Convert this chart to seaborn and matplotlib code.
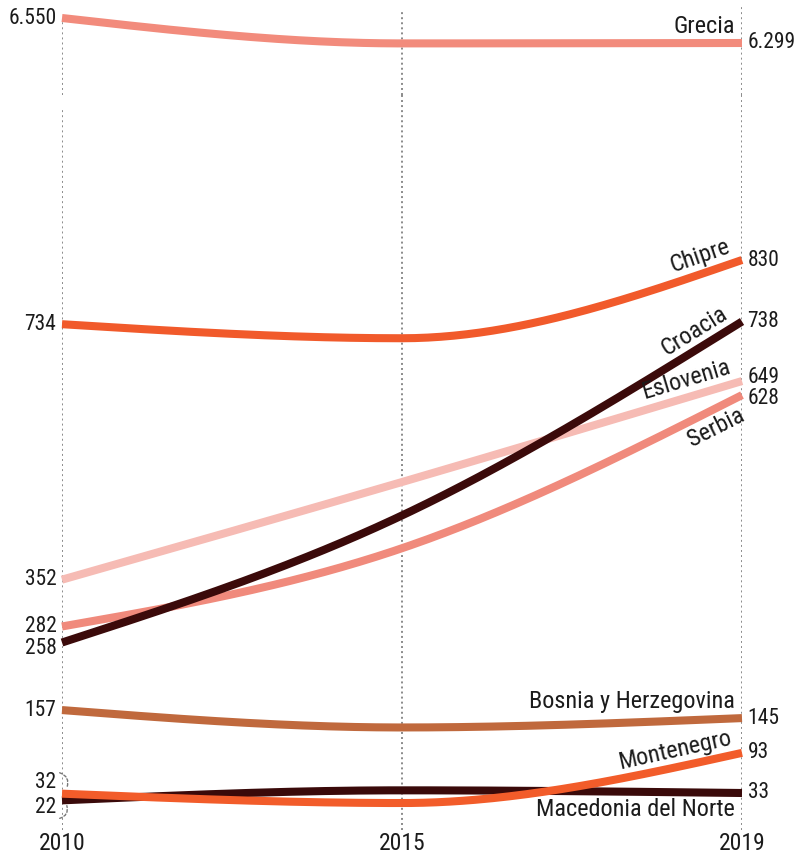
import numpy as np
import pandas as pd
import matplotlib
matplotlib.use("Agg")
import matplotlib.pyplot as plt
import seaborn as sns
from matplotlib.patches import FancyArrowPatch

# ---------------- data ----------------
years = ["2010", "2015", "2019"]
paises = ["Grecia", "Chipre", "Croacia", "Eslovenia", "Serbia",
          "Bosnia y Herzegovina", "Montenegro", "Macedonia del Norte"]
grecia = [6550, 6295, 6299]
chipre = [734, 713, 830]
croacia = [258, 448, 738]
eslovenia = [352, 498, 649]
serbia = [282, 399, 628]
bosnia = [157, 131, 145]
montenegro = [32, 18, 93]
macedonia = [22, 37, 33]
start_labels = ["6.550", "734", "258", "352", "282", "157", "32", "22"]
end_labels = ["6.299", "830", "738", "649", "628", "145", "93", "33"]

valores = dict(zip(paises, [grecia, chipre, croacia, eslovenia, serbia,
                            bosnia, montenegro, macedonia]))
colores = {
    "Grecia": "#F28B7C",
    "Chipre": "#F15A2B",
    "Croacia": "#3B0A0A",
    "Eslovenia": "#F6BBB4",
    "Serbia": "#F08A7C",
    "Bosnia y Herzegovina": "#C0693D",
    "Montenegro": "#F25C2A",
    "Macedonia del Norte": "#3A0A0A",
}

sns.set_theme(style="white")
plt.rcParams["font.family"] = ["Roboto Condensed", "Liberation Sans Narrow",
                               "DejaVu Sans Condensed", "Roboto", "DejaVu Sans"]
TXT = "#1b1b1b"
WEIGHT = "normal"


def monotone(ys, n=80):
    """d3 curveMonotoneX style rendering of a line through equally spaced points."""
    ys = np.asarray(ys, float)
    xs = np.arange(len(ys), dtype=float)
    s = np.diff(ys)
    t = np.zeros(len(ys))
    for i in range(1, len(ys) - 1):
        p = (s[i - 1] + s[i]) / 2
        t[i] = (np.sign(s[i - 1]) + np.sign(s[i])) * min(abs(s[i - 1]), abs(s[i]), 0.5 * abs(p))
    t[0] = (3 * s[0] - t[1]) / 2
    t[-1] = (3 * s[-1] - t[-2]) / 2
    px, py = [], []
    for i in range(len(ys) - 1):
        u = np.linspace(0, 1, n)
        h00 = 2 * u**3 - 3 * u**2 + 1
        h10 = u**3 - 2 * u**2 + u
        h01 = -2 * u**3 + 3 * u**2
        h11 = u**3 - u**2
        px.append(xs[i] + u)
        py.append(h00 * ys[i] + h10 * t[i] + h01 * ys[i + 1] + h11 * t[i + 1])
    return np.concatenate(px), np.concatenate(py), t


W, H = 801, 858
fig = plt.figure(figsize=(W / 100, H / 100), dpi=100)
fig.patch.set_facecolor("white")
L, R = 62, 742
TOP_B = 95
BOT_B = 830
ax_top = fig.add_axes([L / W, 1 - TOP_B / H, (R - L) / W, TOP_B / H])
ax = fig.add_axes([L / W, 1 - BOT_B / H, (R - L) / W, (BOT_B - TOP_B) / H])

# y scales (pixel positions measured on reference)
gpp = (6550 - 6299) / (43 - 18)          # units per px, top panel
ax_top.set_ylim(6550 - (TOP_B - 18) * gpp, 6550 + 18 * gpp)
ppu = (793 - 260) / (830 - 33)            # px per unit, bottom panel
zero_px = 793 + 33 * ppu
ax.set_ylim(-(BOT_B - zero_px) / ppu, (zero_px - TOP_B) / ppu)
for a in (ax_top, ax):
    a.set_xlim(0, 2)
    a.axis("off")

# dotted vertical guides
dots = dict(color="#8a8a8a", lw=1.4, linestyle=(0, (1, 1.6)), zorder=1)
ax_top.axvline(0, ymin=0, ymax=1 - 18 / TOP_B, **dots)
ax_top.axvline(1, ymin=0, ymax=1 - 12 / TOP_B, **dots)
ax_top.axvline(2, ymin=0, ymax=1 - 6 / TOP_B, **dots)
ax.axvline(0, ymin=0, ymax=(BOT_B - 108) / (BOT_B - TOP_B), **dots)
ax.axvline(1, ymin=0, ymax=1, **dots)
ax.axvline(2, ymin=0, ymax=1, **dots)

# lines
order = ["Grecia", "Eslovenia", "Serbia", "Croacia", "Chipre",
         "Bosnia y Herzegovina", "Macedonia del Norte", "Montenegro"]
tangents = {}
for z, p in enumerate(order):
    px, py, t = monotone(valores[p])
    tangents[p] = t
    df = pd.DataFrame({"x": px, "y": py, "pais": p})
    target = ax_top if p == "Grecia" else ax
    sns.lineplot(data=df, x="x", y="y", color=colores[p], lw=5.8,
                 sort=False, estimator=None, ax=target, legend=False,
                 zorder=3 + z, solid_capstyle="butt")
    target.lines[-1].set_clip_on(False)

# value labels
num_fs = 15.5
start_off = {"258": -6, "32": 11, "22": -7}
end_off = {"649": 4, "628": -3}
for p, sl, el in zip(paises, start_labels, end_labels):
    target = ax_top if p == "Grecia" else ax
    v = valores[p]
    target.annotate(sl, (0, v[0]), xytext=(-4, start_off.get(sl, 0) * 0.72),
                    textcoords="offset points", ha="right", va="center",
                    fontsize=num_fs, color=TXT, fontweight=WEIGHT,
                    annotation_clip=False)
    target.annotate(el, (2, v[2]), xytext=(4, end_off.get(el, 0) * 0.72),
                    textcoords="offset points", ha="left", va="center",
                    fontsize=num_fs, color=TXT, fontweight=WEIGHT,
                    annotation_clip=False)

# country labels
rot_labels = {"Chipre": "above", "Croacia": "above", "Eslovenia": "above",
              "Serbia": "below", "Montenegro": "above"}
flat_labels = {"Grecia": "above", "Bosnia y Herzegovina": "above",
               "Macedonia del Norte": "below"}
xpx_per_unit = (R - L) / 2
for p in paises:
    target = ax_top if p == "Grecia" else ax
    v = valores[p]
    xe = 2 - 7 / xpx_per_unit
    px, py, t = monotone(v)
    ye = np.interp(xe, px, py)
    if p in rot_labels:
        slope_px = tangents[p][-1] * ppu / xpx_per_unit
        ang = np.degrees(np.arctan(slope_px))
        side = rot_labels[p]
    else:
        ang = 0.0
        side = flat_labels[p]
    d = 5.5 if side == "above" else -5.5
    dx = -np.sin(np.radians(ang)) * d
    dy = np.cos(np.radians(ang)) * d
    target.annotate(p, (xe, ye), xytext=(dx * 0.72, dy * 0.72),
                    textcoords="offset points", rotation=ang,
                    rotation_mode="anchor", ha="right",
                    va="bottom" if side == "above" else "top",
                    fontsize=17.5, color=TXT, fontweight=WEIGHT,
                    annotation_clip=False, zorder=20)

# years
for i, y in enumerate(years):
    ax.text(i, -(844 - BOT_B) / (BOT_B - TOP_B), y, transform=ax.get_xaxis_transform(),
            ha="center", va="center", fontsize=17, color=TXT, fontweight=WEIGHT)

# small brackets by 32 / 22
def fp(x, y):
    return (x / W, 1 - y / H)

for a, b, rad in [((57, 772), (66, 790), -0.6), ((57, 819), (66, 803), 0.6)]:
    arr = FancyArrowPatch(fp(*a), fp(*b), transform=fig.transFigure,
                          connectionstyle=f"arc3,rad={rad}", arrowstyle="-",
                          color="#777777", lw=1.0, linestyle=(0, (2, 1.5)))
    fig.add_artist(arr)

fig.savefig("out.png", dpi=100, facecolor="white")
